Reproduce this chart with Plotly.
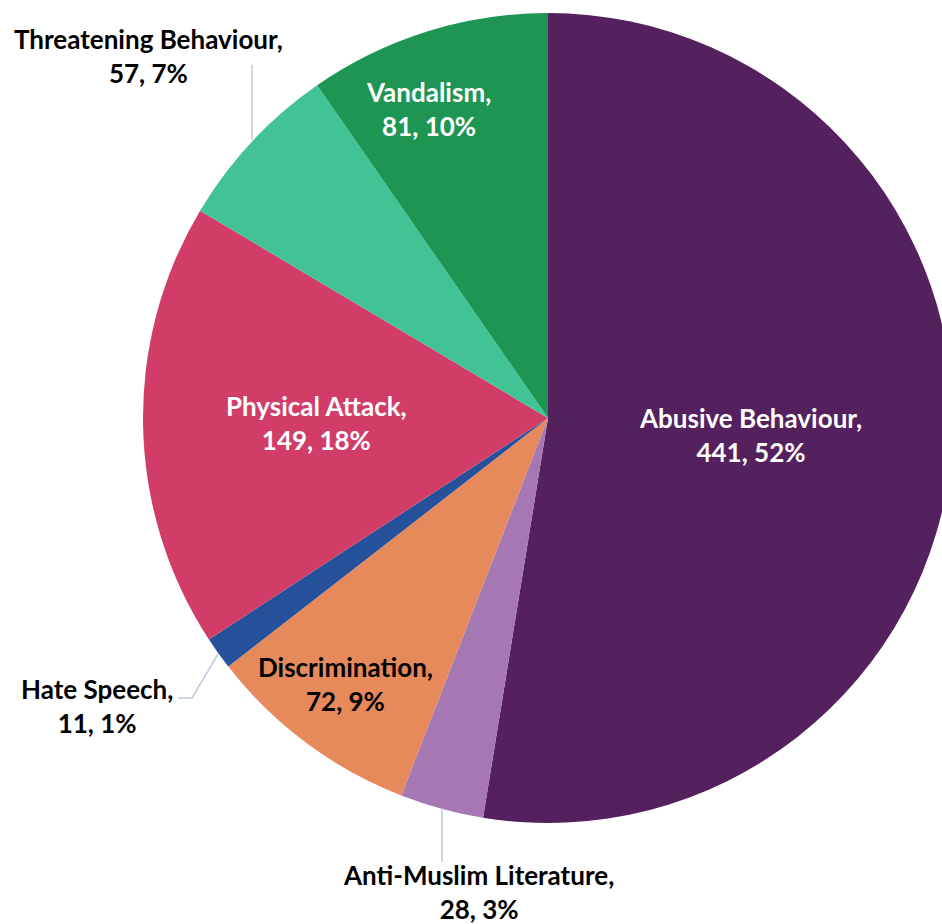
import plotly.graph_objects as go

labels = ["Abusive Behaviour", "Anti-Muslim Literature", "Discrimination", "Hate Speech",
          "Physical Attack", "Threatening Behaviour", "Vandalism"]
values = [441, 28, 72, 11, 149, 57, 81]
pct_labels = ["52%", "3%", "9%", "1%", "18%", "7%", "10%"]
colors = ["#54205E", "#A577B3", "#E68A5B", "#25509A", "#D13D67", "#42C396", "#1E9552"]
text_colors = ["white", "black", "black", "black", "white", "black", "white"]

W, H = 960, 924
FONT = "Lato"
FS = 26


def px(x):
    return x / W


def py(y):
    return 1 - y / H


texts = [f"{l},<br>{v}, {p}" for l, v, p in zip(labels, values, pct_labels)]

cx, cy, r = 548, 418, 405
fig = go.Figure(go.Pie(
    labels=labels, values=values, textinfo="none",
    sort=False, direction="clockwise", rotation=0,
    marker=dict(colors=colors, line=dict(width=0)),
    domain=dict(x=[px(cx - r), px(cx + r)], y=[py(cy + r), py(cy - r)]),
    showlegend=False, hoverinfo="label+value",
))

# label anchor positions (pixels)
label_pos = {"Abusive Behaviour": (750, 435),
             "Physical Attack": (316, 423),
             "Vandalism": (428, 109),
             "Discrimination": (345, 684),
             "Threatening Behaviour": (148, 56),
             "Hate Speech": (97, 706),
             "Anti-Muslim Literature": (478, 892)}
for l, t, c in zip(labels, texts, text_colors):
    x, y = label_pos[l]
    fig.add_annotation(x=px(x), y=py(y), xref="paper", yref="paper", text=t, showarrow=False,
                       font=dict(family=FONT, size=FS, color=c, weight="bold"),
                       align="center", xanchor="center", yanchor="middle")

lc = "#BFCBDA"
fig.add_shape(type="line", xref="paper", yref="paper", x0=px(252), x1=px(252), y0=py(65), y1=py(140),
              line=dict(color=lc, width=1.5))
fig.add_shape(type="path", xref="paper", yref="paper",
              path=f"M {px(178)} {py(698)} L {px(192)} {py(698)} L {px(218)} {py(654)}",
              line=dict(color=lc, width=1.5))
fig.add_shape(type="line", xref="paper", yref="paper", x0=px(442), x1=px(442), y0=py(808), y1=py(862),
              line=dict(color=lc, width=1.5))

fig.update_layout(width=W, height=H, margin=dict(l=0, r=0, t=0, b=0),
                  paper_bgcolor="white", plot_bgcolor="white")
fig.write_html("out.html", config={"displayModeBar": False},
               post_script="document.body.style.margin='0';document.body.style.overflow='hidden';")
